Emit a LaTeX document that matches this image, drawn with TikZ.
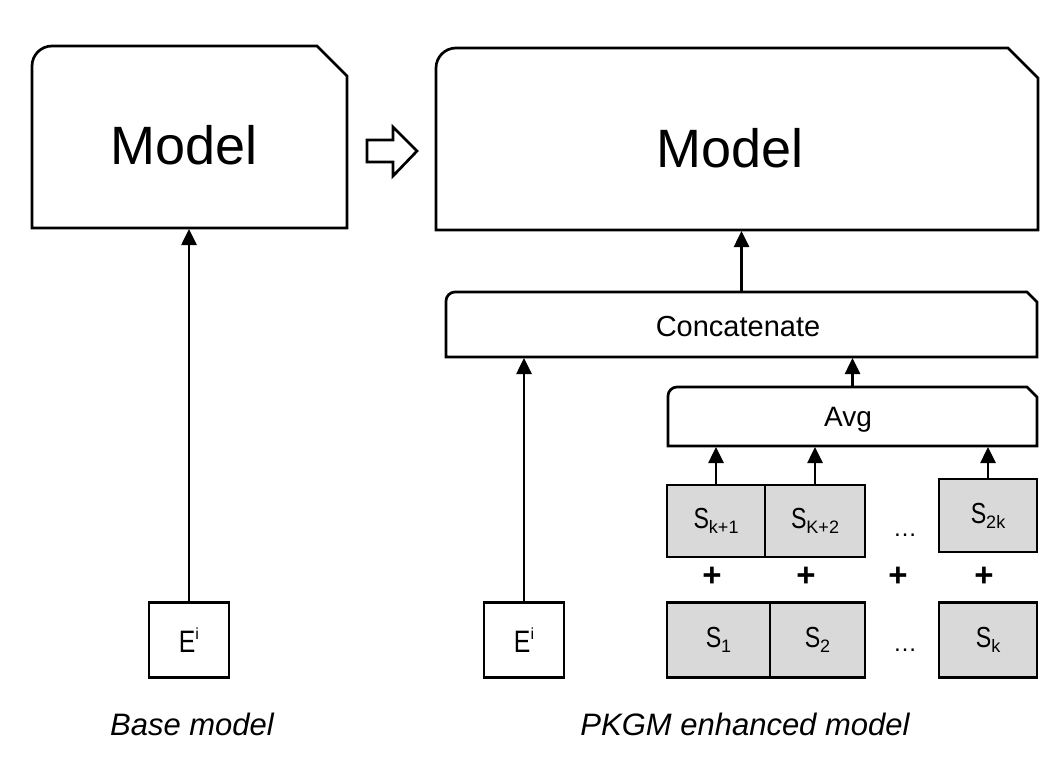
\documentclass[tikz,border=0pt]{standalone}
\usepackage{fontspec}
\setmainfont{Liberation Sans}
\usetikzlibrary{arrows.meta,calc}
\definecolor{cellgray}{HTML}{D9D9D9}
\newcommand\snipbox[3]{\draw[outl] (#1.south west) [rounded corners=#2] -- (#1.north west) [sharp corners] -- ([xshift=-#3]#1.north east) -- ([yshift=-#3]#1.north east) -- (#1.south east) -- cycle;}
\newcommand\fs[1]{\fontsize{#1}{#1}\selectfont}
\newcommand\sublbl[1]{\scalebox{0.8}[1]{\fs{29}S}\raisebox{-5pt}{\fs{18}#1}}
\newcommand\elbl{\scalebox{0.8}[1]{\fs{31}E}\raisebox{13pt}{\fs{16}i}}
\begin{document}
\begin{tikzpicture}[x=1pt,y=-1pt,
  boxspace/.style={rectangle,inner sep=0pt,outer sep=0pt},
  outl/.style={line width=2.7pt,line join=miter},
  cell/.style={rectangle,draw,fill=cellgray,line width=2.7pt,inner sep=0pt,outer sep=0pt},
  ebox/.style={rectangle,draw,fill=white,line width=2.7pt,inner sep=0pt,outer sep=0pt,minimum width=80pt,minimum height=75pt},
  arr/.style={line width=2.6pt,-{Triangle[width=15pt,length=16pt]},shorten >=1pt},
  lbl/.style={inner sep=0pt},
  dots/.style={inner sep=0pt,anchor=base,font=\fs{24}},
  plussign/.style={inner sep=0pt,font=\fs{33}\bfseries},
  captext/.style={inner sep=0pt,font=\fs{31}\itshape}
]
\useasboundingbox[fill=white] (0,0) rectangle (1056,770);

% left side
\node[boxspace,minimum width=315pt,minimum height=182pt] (m1) at (189.5,137) {};
\snipbox{m1}{20pt}{30pt}
\node[lbl,font=\fs{54}] (m1t) at (184,145) {Model};
\node[ebox] (e1) at (189,640) {\elbl};
\draw[arr] (e1.north) -- (e1.north |- m1.south);
\node[captext] (c1) at (192,724) {Base model};

% hollow arrow
\draw[outl] (367,140) -- (393,140) -- (393,127) -- (417,151) -- (393,176) -- (393,162) -- (367,162) -- cycle;

% right side
\node[boxspace,minimum width=602pt,minimum height=182pt] (m2) at (737,139) {};
\snipbox{m2}{20pt}{30pt}
\node[lbl,font=\fs{54}] (m2t) at (730,148) {Model};

\node[boxspace,minimum width=591pt,minimum height=65pt] (cc) at (741.5,324.5) {};
\snipbox{cc}{9pt}{10pt}
\node[lbl,font=\fs{29}] (cct) at (738,327) {Concatenate};

\node[boxspace,minimum width=369pt,minimum height=59pt] (av) at (852.5,416.5) {};
\snipbox{av}{9pt}{10pt}
\node[lbl,font=\fs{28}] (avt) at (848,420) {Avg};

\node[cell,minimum width=98pt,minimum height=72pt] (sk1) at (716,521) {\sublbl{k+1}};
\node[cell,minimum width=100pt,minimum height=72pt] (sk2) at (815,521) {\sublbl{K+2}};
\node[cell,minimum width=98pt,minimum height=73pt] (s2k) at (988,515.5) {\sublbl{2k}};
\node[dots] (d1) at (905,536) {\ldots};

\node[plussign] (p1) at (712,577) {+};
\node[plussign] (p2) at (806,577) {+};
\node[plussign] (p3) at (898,577) {+};
\node[plussign] (p4) at (984,577) {+};

\node[cell,minimum width=103pt,minimum height=75pt] (s1) at (718.5,640) {\sublbl{1}};
\node[cell,minimum width=95pt,minimum height=75pt] (s2) at (817.5,640) {\sublbl{2}};
\node[cell,minimum width=98pt,minimum height=75pt] (sk) at (988,640) {\sublbl{k}};
\node[dots] (d2) at (905,651) {\ldots};

\node[ebox] (e2) at (524,640) {\elbl};
\node[captext] (c2) at (745,724) {PKGM enhanced model};

% connectors
\draw[arr] (e2.north) -- (e2.north |- cc.south);
\draw[arr] (cc.north) -- (cc.north |- m2.south);
\draw[arr] (av.north) -- (av.north |- cc.south);
\draw[arr] (sk1.north) -- (sk1.north |- av.south);
\draw[arr] (sk2.north) -- (sk2.north |- av.south);
\draw[arr] (s2k.north) -- (s2k.north |- av.south);
\end{tikzpicture}
\end{document}
